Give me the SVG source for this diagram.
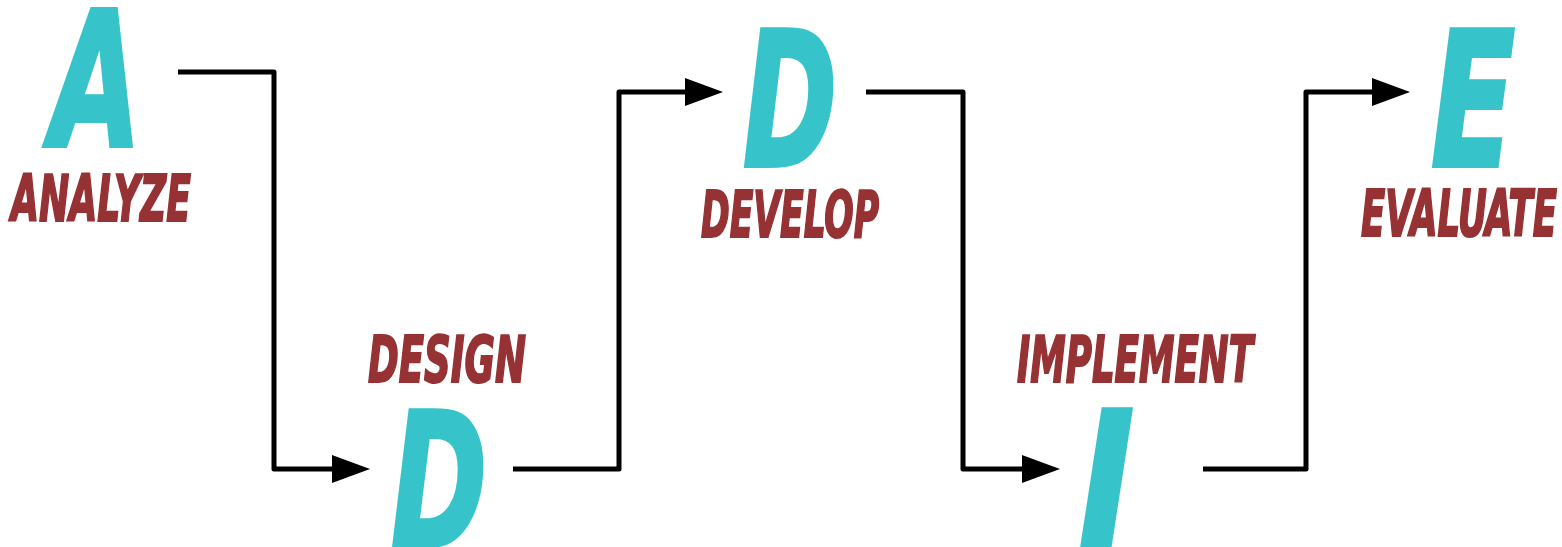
<svg xmlns="http://www.w3.org/2000/svg" width="1562" height="547" viewBox="0 0 1562 547">
<defs>
<style>
.big{font-family:"DejaVu Sans Condensed","DejaVu Sans",sans-serif;font-weight:bold;font-style:oblique;fill:#36C4CA;stroke:#36C4CA;stroke-width:4;stroke-linejoin:miter;font-size:188px}
.lbl{font-family:"DejaVu Sans Condensed","DejaVu Sans",sans-serif;font-weight:bold;font-style:oblique;fill:#963234;stroke:#963234;stroke-width:2;font-size:64px}
.conn{fill:none;stroke:#000;stroke-width:5;stroke-linejoin:round}
</style>
<marker id="arr" markerUnits="userSpaceOnUse" markerWidth="40" markerHeight="30" refX="2" refY="14" orient="auto">
<path d="M0,0 L38,14 L0,28 z" fill="#000"/>
</marker>
</defs>
<rect width="1562" height="547" fill="#fff"/>
<g id="connectors">
<path class="conn" d="M178,72 H274 V469 H334" marker-end="url(#arr)"/>
<path class="conn" d="M513,469 H619 V92 H687" marker-end="url(#arr)"/>
<path class="conn" d="M866,92 H963 V469 H1024" marker-end="url(#arr)"/>
<path class="conn" d="M1203,469 H1306 V92 H1374" marker-end="url(#arr)"/>
</g>
<g id="analyze">
<text class="big" x="51" y="146" textLength="90" lengthAdjust="spacingAndGlyphs">A</text>
<text class="lbl" x="11" y="221" textLength="180" lengthAdjust="spacingAndGlyphs">ANALYZE</text>
</g>
<g id="design">
<text class="lbl" x="368" y="382" textLength="158" lengthAdjust="spacingAndGlyphs">DESIGN</text>
<text class="big" x="391" y="547" textLength="96" lengthAdjust="spacingAndGlyphs">D</text>
</g>
<g id="develop">
<text class="big" x="743" y="166" textLength="94" lengthAdjust="spacingAndGlyphs">D</text>
<text class="lbl" x="701" y="237" textLength="178" lengthAdjust="spacingAndGlyphs">DEVELOP</text>
</g>
<g id="implement">
<text class="lbl" x="1017" y="382" textLength="236" lengthAdjust="spacingAndGlyphs">IMPLEMENT</text>
<text class="big" x="1079" y="546" textLength="55" lengthAdjust="spacingAndGlyphs">I</text>
</g>
<g id="evaluate">
<text class="big" x="1431" y="166" textLength="84" lengthAdjust="spacingAndGlyphs">E</text>
<text class="lbl" x="1361" y="236" textLength="196" lengthAdjust="spacingAndGlyphs">EVALUATE</text>
</g>
</svg>
